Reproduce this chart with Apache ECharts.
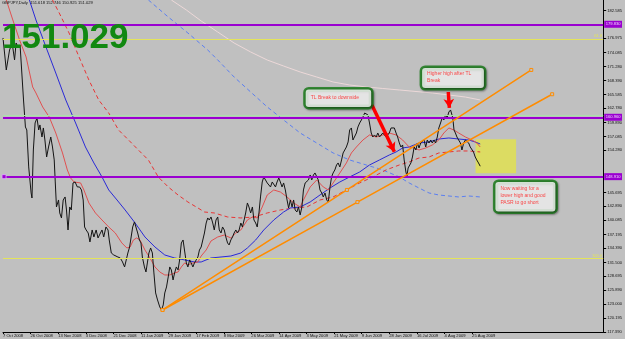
<!DOCTYPE html>
<html><head><meta charset="utf-8">
<script src="https://cdn.jsdelivr.net/npm/echarts@6/dist/echarts.min.js"></script>
<style>html,body{margin:0;padding:0;background:#c0c0c0;}#c{width:625px;height:339px;}</style>
</head><body><div id="c"></div>
<script>
// ---------- data (x = daily bar index from 7 Oct 2008, y = GBPJPY price) ----------
const xTickBars = [0,16,32,48,64,80,96,112,128,144,160,176,192,208,224,240,256,272];
const xTickLabels = ['7 Oct 2008','26 Oct 2008','13 Nov 2008','3 Dec 2008','21 Dec 2008','11 Jan 2009','29 Jan 2009','17 Feb 2009','8 Mar 2009','26 Mar 2009','14 Apr 2009','3 May 2009','21 May 2009','9 Jun 2009','28 Jun 2009','16 Jul 2009','4 Aug 2009','25 Aug 2009'];
const yTickValues = [117.390,120.195,123.000,125.890,128.695,131.500,134.390,137.195,140.085,142.890,145.695,154.280,157.085,159.890,162.780,165.585,168.390,171.280,174.085,176.975,182.585];

const price = [[0,177.05],[1.9,170.56],[3.8,174.61],[5.3,176.04],[6.7,172.59],[7.6,176.04],[8.6,175.22],[9.9,175.63],[11.9,164.47],[13.0,158.99],[13.8,158.38],[14.9,150.88],[16.3,145.60],[16.8,144.58],[17.6,154.32],[18.6,159.80],[19.7,160.82],[20.7,158.38],[21.4,159.40],[22.6,156.96],[23.4,158.79],[24.3,156.35],[25.3,152.90],[26.4,154.93],[27.7,156.96],[28.7,154.93],[29.7,152.30],[30.3,147.83],[31.0,142.76],[32.2,144.18],[32.9,141.54],[33.9,140.53],[34.9,144.18],[36.0,144.79],[36.8,142.15],[37.7,138.09],[38.7,142.76],[39.6,142.15],[40.6,147.63],[41.8,147.83],[43.1,146.82],[44.4,146.82],[45.5,146.21],[46.5,144.18],[47.3,138.70],[48.2,138.09],[49.4,137.48],[50.4,135.66],[51.7,138.09],[52.7,136.67],[54.0,138.09],[55.1,136.47],[56.5,137.48],[57.4,138.09],[58.4,136.67],[59.7,138.70],[60.9,138.09],[61.6,136.06],[62.8,133.42],[64.2,133.02],[65.1,133.42],[66.6,132.61],[68.0,132.41],[69.3,131.60],[70.5,130.59],[71.2,130.38],[72.4,133.42],[73.4,134.64],[74.3,136.67],[75.2,138.70],[76.2,139.72],[77.1,139.51],[78.1,137.48],[79.1,136.06],[80.0,135.46],[80.8,132.61],[82.0,130.59],[82.9,129.57],[83.7,131.40],[84.6,133.42],[85.6,134.44],[86.6,133.42],[87.5,129.37],[88.5,125.31],[89.6,123.89],[90.9,122.47],[91.9,121.86],[92.9,122.88],[93.8,125.31],[94.8,126.53],[95.8,128.56],[96.7,130.59],[97.6,129.98],[98.6,127.95],[99.5,129.37],[100.5,130.59],[101.5,129.98],[102.4,132.01],[103.4,135.46],[104.4,136.06],[105.3,136.06],[106.3,131.40],[107.2,130.59],[108.2,132.01],[109.1,131.40],[110.1,130.59],[111.0,131.40],[112.0,132.01],[113.0,132.61],[113.9,134.03],[114.9,134.64],[116.8,137.48],[117.8,139.51],[118.7,140.53],[119.6,140.12],[120.6,140.73],[121.6,139.51],[122.5,138.09],[123.5,140.12],[124.5,140.73],[125.4,138.09],[126.4,137.48],[127.3,138.70],[128.3,138.09],[129.2,136.67],[130.2,135.46],[131.1,135.05],[132.1,136.06],[133.1,136.67],[134.0,137.48],[135.0,138.09],[136.0,137.48],[136.9,138.09],[137.9,139.51],[138.8,138.70],[139.8,140.12],[140.7,141.54],[141.7,143.57],[142.6,142.76],[143.6,141.54],[144.6,142.76],[145.5,140.12],[146.5,139.51],[147.4,138.70],[148.4,141.54],[149.3,144.79],[150.3,147.83],[151.2,148.85],[152.2,148.64],[153.2,147.63],[154.1,147.83],[155.1,146.82],[156.1,147.83],[157.0,147.63],[158.0,146.82],[158.9,147.83],[159.9,148.64],[160.8,147.83],[161.8,146.82],[162.7,147.63],[163.7,146.21],[164.7,144.18],[165.6,142.56],[166.6,144.18],[167.6,142.76],[168.5,144.18],[169.4,142.15],[170.4,141.74],[171.3,142.76],[172.3,141.14],[173.3,142.76],[174.2,146.21],[175.2,147.63],[176.2,147.83],[177.1,148.24],[178.1,149.25],[179.0,148.24],[180.0,149.25],[180.9,149.66],[181.9,149.86],[182.8,148.24],[183.8,146.21],[184.8,145.60],[185.7,144.79],[186.7,145.60],[187.7,144.18],[188.6,143.77],[189.6,146.82],[190.5,148.85],[191.4,149.66],[192.4,150.27],[193.4,151.28],[194.3,151.69],[195.3,150.88],[196.3,152.30],[197.2,153.72],[198.2,153.92],[199.1,154.93],[200.1,155.95],[201.0,158.38],[202.0,158.79],[202.9,156.35],[203.9,156.35],[204.9,157.77],[205.8,158.99],[206.8,159.80],[207.8,160.41],[208.7,161.02],[209.7,161.83],[210.6,161.83],[211.6,161.43],[212.5,159.80],[213.5,157.77],[214.4,156.96],[215.4,157.37],[216.4,156.96],[217.3,157.77],[218.3,156.96],[219.2,156.76],[220.2,157.77],[221.1,157.37],[222.1,156.96],[223.0,156.76],[224.0,157.77],[225.0,158.79],[225.9,158.99],[226.9,158.79],[227.9,157.77],[228.8,156.96],[229.8,155.74],[230.7,154.93],[231.7,155.34],[232.6,152.30],[233.6,149.86],[234.2,149.05],[234.9,150.67],[235.5,150.27],[236.5,151.69],[237.4,152.90],[238.4,154.93],[239.4,154.32],[240.3,155.74],[241.2,154.73],[242.2,155.74],[243.1,155.34],[244.1,156.35],[245.1,154.93],[246.0,156.35],[247.0,155.74],[248.0,156.35],[248.9,155.74],[249.9,156.35],[250.8,155.74],[251.8,156.96],[252.7,158.79],[253.7,159.80],[254.6,160.82],[255.6,160.41],[256.6,161.43],[257.5,160.82],[258.5,162.03],[259.5,162.44],[260.0,161.83],[260.8,160.82],[261.5,158.38],[262.3,157.77],[263.2,156.96],[264.2,156.35],[265.2,155.74],[266.1,154.32],[267.1,155.74],[268.1,156.35],[269.0,155.95],[270.0,155.74],[270.9,154.93],[271.9,154.73],[272.8,153.92],[273.8,152.90],[274.7,152.30],[275.7,151.69],[276.7,151.029]];

const maFast = [[1.9,184.76],[5.7,180.70],[9.6,176.64],[13.4,173.19],[17.2,167.11],[19.1,165.89],[23.0,163.05],[26.8,161.02],[30.6,157.77],[34.5,153.72],[37.3,150.27],[39.2,148.64],[41.2,147.83],[45.0,147.63],[46.9,146.21],[49.8,143.57],[53.6,141.54],[57.4,140.12],[61.3,138.70],[65.1,137.48],[68.9,135.46],[71.8,134.44],[73.7,134.64],[75.6,136.06],[77.5,136.47],[79.4,136.06],[82.3,134.03],[85.2,132.41],[88.1,130.59],[90.9,129.57],[93.8,128.96],[96.7,128.96],[99.5,129.37],[101.5,129.57],[103.4,130.59],[105.3,131.40],[107.2,130.99],[110.1,131.40],[113.0,131.60],[114.9,132.81],[117.8,134.03],[120.6,135.86],[124.5,136.67],[128.3,137.07],[132.1,136.47],[135.0,137.48],[137.9,138.09],[141.7,140.12],[144.6,140.73],[147.4,140.53],[150.3,142.76],[153.2,145.19],[157.0,146.21],[160.8,145.80],[164.7,144.79],[168.5,143.57],[172.3,142.76],[174.2,144.18],[178.1,146.82],[181.9,148.24],[185.7,146.82],[188.6,146.21],[191.4,147.63],[195.3,149.66],[199.1,151.69],[202.0,153.72],[204.9,154.93],[208.7,156.35],[212.5,157.37],[216.4,156.96],[220.2,157.37],[224.0,157.77],[227.9,157.37],[231.7,156.35],[235.5,154.93],[238.4,154.73],[241.2,154.32],[245.1,154.73],[248.9,155.34],[252.7,156.35],[255.6,157.77],[258.5,158.79],[261.4,158.38],[264.2,157.77],[268.1,156.96],[271.9,156.35],[274.7,155.74],[276.7,154.93]];

const maMid = [[15.3,184.76],[19.1,180.70],[24.9,175.22],[30.6,169.94],[36.4,164.47],[42.1,159.80],[47.8,154.93],[52.7,151.69],[57.4,148.85],[61.3,146.21],[66.1,144.18],[70.8,142.15],[76.6,139.51],[82.3,136.67],[88.1,134.64],[93.8,133.02],[99.5,132.41],[105.3,132.01],[111.0,131.60],[114.9,131.60],[120.6,132.41],[126.4,132.61],[132.1,132.81],[137.9,133.42],[141.7,134.44],[146.5,136.06],[151.2,138.09],[157.0,140.12],[162.7,141.74],[166.6,142.56],[172.3,142.76],[178.1,143.77],[183.8,145.19],[189.6,146.61],[195.3,147.83],[201.0,148.85],[206.8,149.86],[212.5,151.28],[218.3,152.30],[224.0,153.31],[227.9,153.92],[231.7,154.73],[235.5,154.93],[241.2,155.74],[247.0,155.95],[252.7,156.55],[258.5,156.76],[264.2,156.55],[270.0,156.35],[273.8,155.95],[276.7,155.54]];

const maSlow = [[28.7,184.76],[32.6,182.12],[38.3,178.06],[44.1,173.19],[49.8,168.52],[55.5,164.47],[61.3,161.83],[67.0,158.38],[72.8,156.35],[78.5,154.32],[84.3,152.29],[90.0,148.85],[95.8,146.82],[101.5,145.19],[107.2,143.77],[113.0,142.56],[116.8,141.74],[122.5,141.54],[130.2,140.73],[137.9,140.53],[145.5,140.73],[153.2,141.54],[160.8,142.15],[168.5,142.56],[176.2,142.76],[183.8,144.18],[191.4,144.79],[199.1,146.21],[206.8,147.63],[214.4,148.85],[222.1,150.27],[229.8,151.28],[235.5,151.89],[241.2,152.70],[247.0,152.90],[252.7,153.72],[258.5,153.92],[264.2,154.12],[270.0,154.12],[276.7,153.92]];

const ma200 = [[84.3,184.76],[95.8,181.31],[107.2,178.06],[118.7,174.61],[124.5,172.59],[134.0,169.13],[143.6,166.09],[153.2,163.05],[162.7,160.41],[172.3,157.77],[181.9,155.74],[191.4,153.72],[201.0,152.29],[210.6,151.28],[220.2,150.27],[229.8,148.85],[235.5,147.63],[241.2,146.61],[247.0,145.60],[252.7,145.19],[258.5,144.99],[264.2,144.79],[270.0,144.99],[276.7,144.79]];

const ma365 = [[97.6,184.76],[106.3,182.73],[114.9,180.50],[124.5,178.26],[134.0,176.03],[143.6,174.21],[153.2,172.58],[162.7,171.36],[172.3,170.15],[181.9,169.13],[191.4,168.12],[201.0,167.51],[210.6,167.11],[220.2,166.80],[229.8,166.50],[248.9,165.89],[268.1,165.07],[276.7,164.47]];

const trendUpper = [[92.5,121.86],[199.4,146.21],[306.3,170.56]];
const trendLower = [[92.5,121.86],[205.5,143.75],[318.4,165.63]];

const resistTop = 179.830, resistMid = 160.960, supportLow = 148.910, greenLevel = 161.280;
const fib618 = 176.820, fib100 = 132.270, lastClose = 151.029;
const waitZone = [[274.0,156.49],[297.5,149.60]];
const arrowBreak = [[213.9,163.45],[226.9,153.98]];
const arrowHigh = [[258.2,166.09],[258.8,162.85]];
const notes = [
  {at:[175.5,166.60], text:'TL Break to downside'},
  {at:[243.0,170.96], text:'Higher high after TL\nBreak'},
  {at:[285.5,147.83], text:'Now waiting for a\nlower high and good\nPASR to go short'}
];
const headerText = 'GBPJPY,Daily  151.618 152.746 150.925 151.029';
const bigPrice = '151.029';

// ---------- chart ----------
const PURPLE = '#9a00d0', ORANGE = '#ff8c00', YELLOW = '#e4e45a';
const FONT = 'Liberation Sans, Arial, sans-serif';
const noteSizes = [
  {w:60.5, h:12.5, pad:[5,0,0,5]},
  {w:56.8, h:17.6, pad:[2.5,0,0,5]},
  {w:55, h:26, pad:[3.5,0,0,5]}
];
function lvl(value, color, width, lbl){
  const d = {yAxis:value, lineStyle:{color:color, width:width, type:'solid', opacity:1}, label:{show:false}};
  if (lbl) d.label = Object.assign({show:true, fontFamily:FONT}, lbl);
  return d;
}
const chart = echarts.init(document.getElementById('c'), null, {renderer:'canvas'});
const option = {
  backgroundColor:'#c0c0c0',
  animation:false,
  title:[
    {text:bigPrice, left:2, top:21, padding:0, textStyle:{color:'#118811', fontSize:35, fontWeight:'bold', fontFamily:FONT}},
    {text:headerText, left:2, top:1, padding:0, textStyle:{color:'#111', fontSize:4.1, fontWeight:'normal', fontFamily:FONT}}
  ],
  grid:{left:0, right:19.5, top:0, bottom:7, containLabel:false},
  xAxis:{type:'value', min:0, max:348, position:'bottom',
    axisLine:{show:true, onZero:false, lineStyle:{color:'#000', width:1}},
    axisTick:{show:true, customValues:xTickBars, length:2, lineStyle:{color:'#000'}},
    axisLabel:{show:true, customValues:xTickBars, formatter:v=>xTickLabels[xTickBars.indexOf(v)] || '', fontSize:4.1, color:'#111', align:'left', margin:1.5, fontFamily:FONT},
    splitLine:{show:false}},
  yAxis:{type:'value', position:'right', min:117.39, max:184.756,
    axisLine:{show:true, onZero:false, lineStyle:{color:'#000', width:1}},
    axisTick:{show:true, customValues:yTickValues, length:3, lineStyle:{color:'#000'}},
    axisLabel:{show:true, customValues:yTickValues, formatter:v=>v.toFixed(3), fontSize:4.1, color:'#111', margin:4, fontFamily:FONT},
    splitLine:{show:false}},
  series:[
    {type:'line', data:[], z:1, silent:true,
      markArea:{silent:true, itemStyle:{color:'#dcdc62'}, data:[[{coord:waitZone[0]},{coord:waitZone[1]}]]}},
    {type:'line', data:[], z:2, silent:true,
      markLine:{silent:true, symbol:['none','none'], animation:false,
        data:[
          lvl(resistTop, PURPLE, 2, {position:'end', distance:1, formatter:resistTop.toFixed(3), backgroundColor:PURPLE, color:'#f0d0ff', fontSize:4.1, padding:[1.5,1.5]}),
          lvl(greenLevel, '#a8e2a8', 1, null),
          lvl(resistMid, PURPLE, 2, {position:'end', distance:1, formatter:resistMid.toFixed(3), backgroundColor:PURPLE, color:'#f0d0ff', fontSize:4.1, padding:[1.5,1.5]}),
          lvl(supportLow, PURPLE, 2, {position:'end', distance:1, formatter:supportLow.toFixed(3), backgroundColor:PURPLE, color:'#f0d0ff', fontSize:4.1, padding:[1.5,1.5]}),
          lvl(fib618, YELLOW, 1, {position:'insideEndTop', distance:1, formatter:'61.8', color:YELLOW, fontSize:4.1}),
          lvl(fib100, YELLOW, 1, {position:'insideEndTop', distance:1, formatter:'100.0', color:YELLOW, fontSize:4.1}),
          {yAxis:lastClose, lineStyle:{opacity:0}, label:{show:true, position:'end', distance:1, formatter:lastClose.toFixed(3), backgroundColor:'#000', color:'#fff', fontSize:4.1, padding:[1.5,1.5], fontFamily:FONT}}
        ]},
      markPoint:{silent:true, symbol:'rect', symbolSize:4, itemStyle:{color:PURPLE, borderColor:'#e0b0ff', borderWidth:0.8}, label:{show:false},
        data:[{coord:[0.6, supportLow]}]}},
    {type:'line', data:ma365, showSymbol:false, z:3, lineStyle:{color:'#ecd8d8', width:1}},
    {type:'line', data:ma200, showSymbol:false, z:3, lineStyle:{color:'#5b7ff0', width:1, type:[4,3]}},
    {type:'line', data:maSlow, showSymbol:false, z:3, lineStyle:{color:'#e83434', width:1, type:[4,3]}},
    {type:'line', data:maMid, showSymbol:false, z:3, lineStyle:{color:'#2a2ad6', width:1}},
    {type:'line', data:maFast, showSymbol:false, z:3, lineStyle:{color:'#e05050', width:1}},
    {type:'line', data:price, showSymbol:false, z:4, lineStyle:{color:'#141414', width:1}},
    {type:'line', data:trendUpper, z:5, symbol:'rect', symbolSize:3, showSymbol:true, lineStyle:{color:ORANGE, width:1.5}, itemStyle:{color:'#c0c0c0', borderColor:ORANGE, borderWidth:1}},
    {type:'line', data:trendLower, z:5, symbol:'rect', symbolSize:3, showSymbol:true, lineStyle:{color:ORANGE, width:1.5}, itemStyle:{color:'#c0c0c0', borderColor:ORANGE, borderWidth:1}},
    {type:'line', data:[], z:6, silent:true,
      markLine:{silent:true, symbol:['none','arrow'], symbolSize:[8,9], label:{show:false},
        lineStyle:{color:'#ff0000', width:3.5, type:'solid'},
        data:[[{coord:arrowBreak[0]},{coord:arrowBreak[1]}],[{coord:arrowHigh[0]},{coord:arrowHigh[1]}]]}},
    {type:'scatter', z:7, symbolSize:0, silent:true,
      data:notes.map((n,i)=>({value:n.at, label:{show:true, position:[0,0], align:'left', verticalAlign:'top',
        formatter:n.text, width:noteSizes[i].w, height:noteSizes[i].h, padding:noteSizes[i].pad,
        backgroundColor:'#ffffff', borderColor:'#157a15', borderWidth:2.5, borderRadius:3,
        shadowColor:'rgba(0,0,0,0.45)', shadowBlur:2, shadowOffsetX:1, shadowOffsetY:1,
        color:'#ff1a1a', fontSize:5, lineHeight:7, fontFamily:FONT}}))}
  ]
};
chart.setOption(option);
</script></body></html>
